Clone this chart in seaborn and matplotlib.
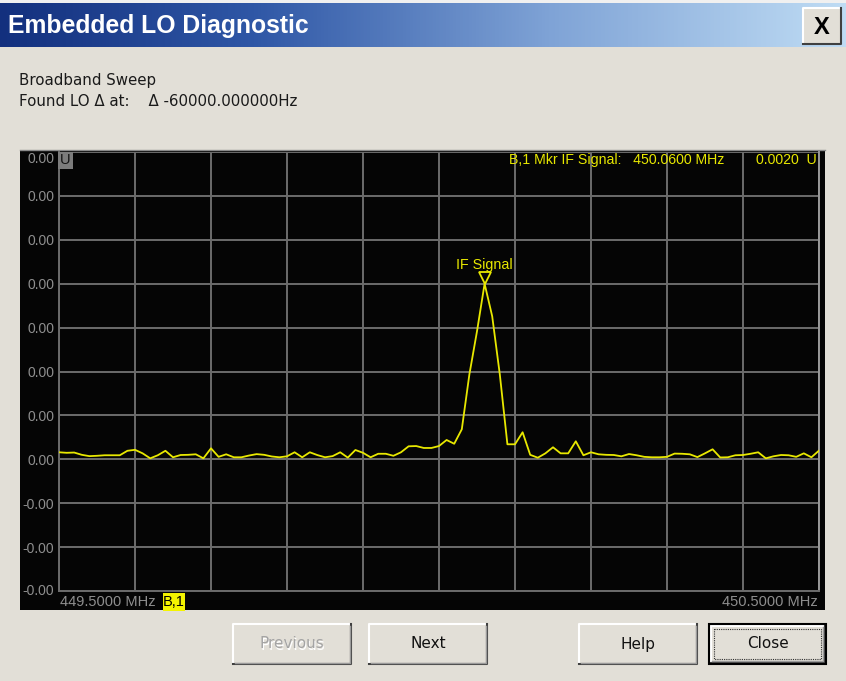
import numpy as np
import matplotlib
matplotlib.use("Agg")
import matplotlib.pyplot as plt
import matplotlib.transforms as mtransforms
from matplotlib.patches import Rectangle
from matplotlib.colors import LinearSegmentedColormap
from matplotlib.ticker import FormatStrFormatter
from matplotlib import font_manager
import seaborn as sns
import pandas as pd

# ---------------- data ----------------
title_text = "Embedded LO Diagnostic"
info_line1 = "Broadband Sweep"
info_line2 = "Found LO \u0394 at:    \u0394 -60000.000000Hz"

sweep_start_mhz = 449.5
sweep_stop_mhz = 450.5
n_points = 101

# trace amplitude, milli-units
trace_mU = [
    0.080, 0.074, 0.077, 0.051, 0.036, 0.040, 0.046, 0.046, 0.046, 0.097,
    0.108, 0.068, 0.011, 0.046, 0.097, 0.023, 0.049, 0.051, 0.057, 0.011,
    0.125, 0.028, 0.057, 0.023, 0.023, 0.043, 0.059, 0.051, 0.032, 0.023,
    0.034, 0.080, 0.023, 0.080, 0.048, 0.023, 0.036, 0.080, 0.019, 0.106,
    0.074, 0.023, 0.063, 0.063, 0.040, 0.080, 0.148, 0.151, 0.129, 0.129,
    0.151, 0.220, 0.177, 0.342, 0.968, 1.458, 2.000, 1.629, 0.968, 0.171,
    0.171, 0.308, 0.051, 0.018, 0.068, 0.137, 0.068, 0.068, 0.205, 0.046,
    0.080, 0.057, 0.051, 0.049, 0.034, 0.060, 0.046, 0.028, 0.023, 0.023,
    0.028, 0.065, 0.063, 0.057, 0.025, 0.068, 0.114, 0.021, 0.023, 0.046,
    0.049, 0.063, 0.080, 0.011, 0.034, 0.049, 0.046, 0.028, 0.068, 0.023,
    0.099,
]

marker_name = "IF Signal"
marker_freq_mhz = 450.06
marker_value_u = 0.0020
readout_text = "B,1 Mkr IF Signal:   450.0600 MHz"
readout_value = "0.0020  U"

y_min_u = -0.0015
y_max_u = 0.0035
n_divisions = 10
left_freq_label = "449.5000 MHz"
right_freq_label = "450.5000 MHz"
trace_label = "B,1"
unit_label = "U"

buttons = ["Previous", "Next", "Help", "Close"]

# ---------------- styling ----------------
W, H = 846, 681
BG = "#e2dfd7"
YELLOW = "#e8e800"
GRID = "#6c6c6c"
TICKGRAY = "#8e8e8e"

names = {f.name for f in font_manager.fontManager.ttflist}
NARROW = "Liberation Sans Narrow" if "Liberation Sans Narrow" in names else "Liberation Sans"
SANS = "Liberation Sans"
UI = "DejaVu Sans"

df = pd.DataFrame({
    "freq": np.linspace(sweep_start_mhz, sweep_stop_mhz, n_points),
    "amp": np.array(trace_mU) / 1000.0,
})

fig = plt.figure(figsize=(W / 100, H / 100), dpi=100, facecolor=BG)


def fbox(x0, y0, x1, y1):
    return [x0 / W, 1 - y1 / H, (x1 - x0) / W, (y1 - y0) / H]


# overlay in pixel coordinates for the dialog chrome
ov = fig.add_axes([0, 0, 1, 1], zorder=0)
ov.set_facecolor(BG)
grad = np.linspace(0, 1, 512).reshape(1, -1)
cmap = LinearSegmentedColormap.from_list(
    "title", [(0, "#13307e"), (0.3, "#2f57a6"), (0.65, "#7fa3d6"), (1, "#bfdcf4")])
ov.imshow(grad, extent=[0, W, 47, 3], aspect="auto", cmap=cmap, zorder=1)
ov.add_patch(Rectangle((0, 0), W, 3, facecolor="#f0f0f0", edgecolor="none", zorder=1))
ov.set_xlim(0, W)
ov.set_ylim(H, 0)
ov.axis("off")

ov.text(8, 26, title_text, color="white", fontsize=17.8, fontweight="bold",
        family=SANS, va="center", ha="left", zorder=3)

# close "X" box
ov.add_patch(Rectangle((803, 8), 38, 36, facecolor=BG, edgecolor="none", zorder=2))
ov.plot([803, 803, 841], [44, 8, 8], color="white", lw=1.5, zorder=3)
ov.plot([803, 841, 841], [44, 44, 8], color="#404040", lw=1.5, zorder=3)
ov.text(822, 27, "X", fontsize=17, fontweight="bold", family=SANS, color="black",
        ha="center", va="center", zorder=4)

ov.text(19, 80, info_line1, fontsize=10.8, family=UI, color="#1a1a1a", va="center")
ov.text(19, 101, info_line2, fontsize=10.8, family=UI, color="#1a1a1a", va="center")

# black instrument panel
ov.add_patch(Rectangle((20, 150), 805, 460, facecolor="#050505", edgecolor="none", zorder=1))
ov.plot([20, 825], [150, 150], color="#8a8a8a", lw=1, zorder=2)

ov.text(60, 602, left_freq_label, fontsize=10.5, family=NARROW, color=TICKGRAY,
        ha="left", va="center", zorder=3)
ov.text(818, 602, right_freq_label, fontsize=10.5, family=NARROW, color=TICKGRAY,
        ha="right", va="center", zorder=3)
ov.add_patch(Rectangle((163, 593), 22, 18, facecolor="#f4f400", edgecolor="none", zorder=2))
ov.text(174, 602, trace_label, fontsize=10.5, family=NARROW, color="black",
        ha="center", va="center", zorder=3)


def draw_button(x0, x1, label, disabled=False, default=False):
    y0, y1 = 624, 664
    ov.add_patch(Rectangle((x0, y0), x1 - x0, y1 - y0, facecolor=BG, edgecolor="none", zorder=2))
    if default:
        ov.add_patch(Rectangle((x0, y0), x1 - x0, y1 - y0, facecolor="none",
                               edgecolor="black", lw=1.5, zorder=4))
        ov.add_patch(Rectangle((x0 + 5, y0 + 5), x1 - x0 - 10, y1 - y0 - 10, facecolor="none",
                               edgecolor="#303030", lw=0.8, ls=(0, (1, 1)), zorder=4))
        x0, y0, x1, y1 = x0 + 1.5, y0 + 1.5, x1 - 1.5, y1 - 1.5
    ov.plot([x0, x0, x1], [y1, y0, y0], color="white", lw=1.5, zorder=3)
    ov.plot([x0, x1, x1], [y1, y1, y0], color="#404040", lw=1.5, zorder=3)
    ov.plot([x0 + 1.5, x1 - 1.5, x1 - 1.5], [y1 - 1.5, y1 - 1.5, y0 + 1.5],
            color="#9a9a9a", lw=1, zorder=3)
    cx, cy = (x0 + x1) / 2, (y0 + y1) / 2
    if disabled:
        ov.text(cx + 1, cy + 1, label, fontsize=11, family=UI, color="white",
                ha="center", va="center", zorder=4)
        ov.text(cx, cy, label, fontsize=11, family=UI, color="#a4a4a4",
                ha="center", va="center", zorder=5)
    else:
        ov.text(cx, cy, label, fontsize=11, family=UI, color="#111111",
                ha="center", va="center", zorder=5)


draw_button(233, 351, buttons[0], disabled=True)
draw_button(369, 487, buttons[1])
draw_button(579, 697, buttons[2])
draw_button(709, 826, buttons[3], default=True)

# ---------------- chart ----------------
ax = fig.add_axes(fbox(59, 152, 819, 591), zorder=1)
ax.set_facecolor("#050505")
sns.lineplot(data=df, x="freq", y="amp", ax=ax, color=YELLOW, lw=1.3, zorder=3)
ax.set_xlim(sweep_start_mhz, sweep_stop_mhz)
ax.set_ylim(y_min_u, y_max_u)
ax.set_xticks(np.linspace(sweep_start_mhz, sweep_stop_mhz, n_divisions + 1))
ax.set_yticks(np.linspace(y_min_u, y_max_u, n_divisions + 1))
ax.yaxis.set_major_formatter(FormatStrFormatter("%.2f"))
ax.set_xticklabels([])
ax.set_xlabel("")
ax.set_ylabel("")
ax.grid(True, color=GRID, lw=1.4, zorder=1)
ax.set_axisbelow(True)
ax.tick_params(axis="both", length=0)
ax.tick_params(axis="y", pad=3.5, labelcolor=TICKGRAY, labelsize=10)
for lab in ax.get_yticklabels():
    lab.set_family(NARROW)
for s in ax.spines.values():
    s.set_color(GRID)
    s.set_linewidth(1.4)
ax.spines["top"].set_visible(False)
ax.spines["right"].set_color("#9a9a9a")
ax.get_yticklabels()[-1].set_va("top")
ax.get_yticklabels()[0].set_va("center")

# marker
mk_off = mtransforms.offset_copy(ax.transData, fig=fig, y=6, units="dots")
ax.plot([marker_freq_mhz], [marker_value_u], marker="v", ms=9, mfc="none",
        mec=YELLOW, mew=1.3, transform=mk_off, zorder=4)
ax.annotate(marker_name, xy=(marker_freq_mhz, marker_value_u), xytext=(0, 19),
            textcoords="offset pixels", ha="center", va="center", color=YELLOW,
            fontsize=10.3, family=NARROW, zorder=5)

# unit box & readout
ax.text(0.0015, 0.997, unit_label, transform=ax.transAxes, ha="left", va="top",
        fontsize=10.5, family=NARROW, color="#151515",
        bbox=dict(boxstyle="square,pad=0.12", facecolor="#7c7c7c", edgecolor="none"))
ax.text(0.875, 0.982, readout_text, transform=ax.transAxes, ha="right", va="center",
        fontsize=10.2, family=NARROW, color=YELLOW, zorder=5)
ax.text(0.997, 0.982, readout_value, transform=ax.transAxes, ha="right", va="center",
        fontsize=10.2, family=NARROW, color=YELLOW, zorder=5)

fig.savefig("out.png", dpi=100, facecolor=BG)
